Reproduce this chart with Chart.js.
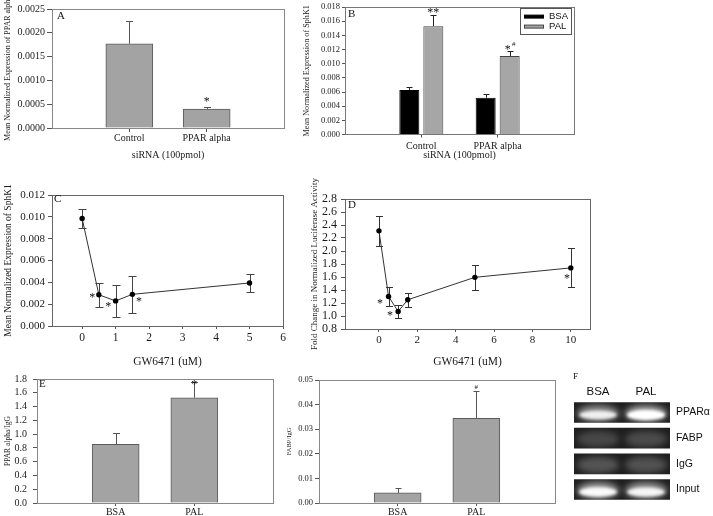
<!DOCTYPE html>
<html lang="en">
<head>
<meta charset="utf-8" />
<title>PPAR alpha / SphK1 panels</title>
<script src="https://cdn.jsdelivr.net/npm/chart.js@4.4.1/dist/chart.umd.min.js"></script>
<style>
  html, body { margin: 0; padding: 0; background: #fff; }
  #page { position: relative; width: 713px; height: 516px; overflow: hidden; }
  #page canvas { position: absolute; left: 0; top: 0; }
</style>
</head>
<body>
<div id="page">
  <canvas id="panelA" width="713" height="516"></canvas>
  <canvas id="panelB" width="713" height="516"></canvas>
  <canvas id="panelC" width="713" height="516"></canvas>
  <canvas id="panelD" width="713" height="516"></canvas>
  <canvas id="panelE" width="713" height="516"></canvas>
  <canvas id="panelFabp" width="713" height="516"></canvas>
  <canvas id="panelGel" width="713" height="516"></canvas>
</div>
<script>
var W = 713, H = 516;
var serif = '"Liberation Serif", "Times New Roman", serif';
var sans = '"Liberation Sans", Arial, sans-serif';

// A: PPAR alpha expression after siRNA
var aGroups = ['', 'Control', 'PPAR alpha', ''];
var aMean = [null, 0.00177, 0.00040, null];
var aSem = [null, 0.00047, 0.00004, null];

// B: SphK1 expression, BSA vs PAL
var bGroups = ['', 'Control', 'PPAR alpha', ''];
var bBsa = [null, 0.0063, 0.0052, null];
var bBsaSem = [null, 0.00045, 0.00055, null];
var bPal = [null, 0.0153, 0.0111, null];
var bPalSem = [null, 0.0016, 0.00065, null];

// C: SphK1 vs GW6471 dose
var cDose = [0, 0.5, 1, 1.5, 5];
var cSphk = [0.00985, 0.00286, 0.0023, 0.0029, 0.00394];
var cSem = [0.0009, 0.0011, 0.0015, 0.0017, 0.00085];
var cTicks = [0, 1, 2, 3, 4, 5, 6];

// D: luciferase vs GW6471 dose
var dDose = [0, 0.5, 1, 1.5, 5, 10];
var dFold = [2.31, 1.30, 1.07, 1.25, 1.595, 1.74];
var dSem = [0.23, 0.15, 0.10, 0.11, 0.195, 0.30];
var dTicks = [0, 2, 4, 6, 8, 10];

// E: ChIP PPAR alpha / IgG
var eGroups = ['', 'BSA', 'PAL', ''];
var eRatio = [null, 0.85, 1.528, null];
var eSem = [null, 0.16, 0.23, null];

// FABP / IgG
var fGroups = ['', 'BSA', 'PAL', ''];
var fRatio = [null, 0.0041, 0.0344, null];
var fSem = [null, 0.0020, 0.0111, null];

// F: gel band brightness (0..1)
var gelLanes = ['BSA', 'PAL'];
var gelRows = ['PPARα', 'FABP', 'IgG', 'Input'];
var gelBsa = [0.85, 0.30, 0.40, 0.95];
var gelPal = [1.00, 0.33, 0.38, 0.90];

Chart.defaults.font.family = serif;
Chart.defaults.color = '#1a1a1a';
Chart.defaults.animation = false;
Chart.defaults.responsive = false;
Chart.defaults.plugins.legend.display = false;
Chart.defaults.plugins.tooltip.enabled = false;

function fitWidth(w) { return function (s) { s.width = w; }; }
function fitHeight(h) { return function (s) { s.height = h; }; }

// layout so the plot box lands on the given page rect
function place(area, yLeft, xBottom) {
  return {
    autoPadding: false,
    padding: { left: yLeft, top: area.t, right: W - area.r, bottom: H - xBottom }
  };
}

function valueAxis(o) {
  return {
    min: o.min, max: o.max,
    afterFit: fitWidth(o.width),
    border: { display: false },
    grid: { drawOnChartArea: false, tickLength: o.tl, color: '#555' },
    ticks: {
      stepSize: o.step, padding: o.pad, autoSkip: false, font: { size: o.size },
      callback: function (v) { return v.toFixed(o.dec); }
    },
    title: { display: true, text: o.title, padding: 0, font: { size: o.titleSize, lineHeight: 1 } }
  };
}

function groupAxis(o) {
  return {
    type: 'category', offset: false,
    afterFit: fitHeight(o.height),
    border: { display: false },
    grid: {
      offset: false, drawOnChartArea: false, tickLength: o.tl,
      color: function (c) { return c.tick && c.tick.label ? '#555' : 'rgba(0,0,0,0)'; }
    },
    ticks: { padding: o.pad, autoSkip: false, maxRotation: 0, font: { size: o.size } },
    title: { display: !!o.title, text: o.title, padding: 0, font: { size: o.titleSize, lineHeight: 1 } }
  };
}

// error bars, box frame, panel letter, significance marks, boxed legend
function deco(o) {
  return {
    id: 'deco',
    beforeDatasetsDraw: function (chart) {
      var ctx = chart.ctx, ys = chart.scales.y;
      ctx.save();
      ctx.strokeStyle = o.errColor || '#333';
      ctx.lineWidth = 1;
      chart.data.datasets.forEach(function (ds, di) {
        if (!ds.errs) return;
        chart.getDatasetMeta(di).data.forEach(function (el, i) {
          var v = ds.data[i], e = ds.errs[i];
          if (v == null || e == null) return;
          if (typeof v === 'object') v = v.y;
          var x = Math.round(el.x) + 0.5;
          var top = Math.round(ys.getPixelForValue(v + e)) + 0.5;
          var bot = o.both ? Math.round(ys.getPixelForValue(v - e)) + 0.5 : el.y;
          var c = o.cap;
          ctx.beginPath();
          ctx.moveTo(x, bot); ctx.lineTo(x, top);
          ctx.moveTo(x - c, top); ctx.lineTo(x + c, top);
          if (o.both) { ctx.moveTo(x - c, bot); ctx.lineTo(x + c, bot); }
          ctx.stroke();
        });
      });
      ctx.restore();
    },
    afterDatasetsDraw: function (chart) {
      var ctx = chart.ctx, a = chart.chartArea;
      ctx.save();
      ctx.strokeStyle = o.frame || '#666';
      ctx.lineWidth = 1;
      ctx.strokeRect(Math.round(a.left) + 0.5, Math.round(a.top) + 0.5,
        Math.round(a.right - a.left), Math.round(a.bottom - a.top));
      ctx.restore();
    },
    afterDraw: function (chart) {
      var ctx = chart.ctx, a = chart.chartArea, xs = chart.scales.x, ys = chart.scales.y;
      ctx.save();
      ctx.fillStyle = '#111';
      ctx.textBaseline = 'middle';
      if (o.letter) {
        ctx.font = (o.letterSize || 11) + 'px ' + serif;
        ctx.textAlign = 'left';
        ctx.fillText(o.letter, a.left + o.lx, a.top + o.ly);
      }
      (o.marks || []).forEach(function (m) {
        var x = m.ds != null ? chart.getDatasetMeta(m.ds).data[m.i].x : xs.getPixelForValue(m.x);
        var size = m.size || 12;
        var y = ys.getPixelForValue(m.y) + (m.text.indexOf('*') >= 0 ? size * 0.15 : 0);
        ctx.font = size + 'px ' + serif;
        ctx.textAlign = 'center';
        ctx.fillText(m.text, x + (m.dx || 0), y);
      });
      if (o.legend) {
        var L = o.legend;
        var lx = a.right - L.right - L.w, ly = a.top + L.top;
        ctx.strokeStyle = '#555';
        ctx.strokeRect(Math.round(lx) + 0.5, Math.round(ly) + 0.5, L.w, L.h);
        ctx.font = '9.5px ' + sans;
        ctx.textAlign = 'left';
        chart.data.datasets.forEach(function (ds, i) {
          var ry = ly + 9 + i * 10;
          ctx.fillStyle = ds.backgroundColor;
          ctx.fillRect(lx + 4, ry - 1.5, 20, 3);
          ctx.strokeStyle = ds.borderColor;
          ctx.strokeRect(lx + 4.5, ry - 1.5, 19, 3);
          ctx.fillStyle = '#111';
          ctx.fillText(ds.label, lx + 29, ry);
        });
      }
      ctx.restore();
    }
  };
}

// ---------- A ----------
var aArea = { l: 52, t: 9, r: 284, b: 128 };
new Chart(document.getElementById('panelA'), {
  type: 'bar',
  data: {
    labels: aGroups,
    datasets: [{ data: aMean, errs: aSem, backgroundColor: '#a3a3a3', borderColor: '#5a5a5a', borderWidth: 1, barThickness: 47 }]
  },
  options: {
    layout: place(aArea, 4, 160.5),
    scales: {
      x: groupAxis({ height: 32.5, tl: 4, pad: 0, size: 10, title: 'siRNA (100pmol)', titleSize: 10 }),
      y: valueAxis({ min: 0, max: 0.0025, step: 0.0005, dec: 4, width: 48, tl: 5, pad: 2, size: 10,
        title: 'Mean Normalized Expression of PPAR alpha', titleSize: 8 })
    }
  },
  plugins: [deco({ cap: 3.5, errColor: '#555', frame: '#888', letter: 'A', lx: 5, ly: 7,
    marks: [{ ds: 0, i: 2, y: 0.00059, text: '*' }] })]
});

// ---------- B ----------
var bArea = { l: 345, t: 3, r: 574, b: 134.5 };
new Chart(document.getElementById('panelB'), {
  type: 'bar',
  data: {
    labels: bGroups,
    datasets: [
      { label: 'BSA', data: bBsa, errs: bBsaSem, backgroundColor: '#000', borderColor: '#000', borderWidth: 1,
        categoryPercentage: 0.629, barPercentage: 0.833 },
      { label: 'PAL', data: bPal, errs: bPalSem, backgroundColor: '#a6a6a6', borderColor: '#444', borderWidth: 1,
        categoryPercentage: 0.629, barPercentage: 0.833 }
    ]
  },
  options: {
    layout: place(bArea, 302.9, 160.5),
    scales: {
      x: groupAxis({ height: 26, tl: 3, pad: 2.5, size: 10, title: 'siRNA (100pmol)', titleSize: 10 }),
      y: valueAxis({ min: 0, max: 0.018, step: 0.002, dec: 3, width: 42.1, tl: 3, pad: 2, size: 8.5,
        title: 'Mean Normalized Expression of SphK1', titleSize: 8.2 })
    }
  },
  plugins: [deco({ cap: 3, errColor: '#222', frame: '#777', letter: 'B', lx: 3, ly: 7,
    legend: { right: 3, top: 0.5, w: 51, h: 26 },
    marks: [
      { ds: 1, i: 1, y: 0.0175, text: '**' },
      { ds: 1, i: 2, y: 0.0122, text: '*', dx: -2 },
      { ds: 1, i: 2, y: 0.0127, text: '#', size: 7, dx: 4 }
    ] })]
});

// ---------- C ----------
var cArea = { l: 52, t: 195, r: 283, b: 326 };
new Chart(document.getElementById('panelC'), {
  type: 'line',
  data: {
    datasets: [{
      data: cDose.map(function (x, i) { return { x: x, y: cSphk[i] }; }),
      errs: cSem, borderColor: '#333', borderWidth: 1, tension: 0,
      pointRadius: 2.7, pointBackgroundColor: '#000', pointBorderWidth: 0
    }]
  },
  options: {
    layout: place(cArea, 3.25, 367.75),
    scales: {
      x: {
        type: 'linear', min: -0.9, max: 6,
        afterFit: fitHeight(41.75),
        afterBuildTicks: function (ax) { ax.ticks = cTicks.map(function (v) { return { value: v }; }); },
        border: { display: false },
        grid: { drawOnChartArea: false, tickLength: 3, color: '#555' },
        ticks: { padding: 2, autoSkip: false, maxRotation: 0, font: { size: 11.5 } },
        title: { display: true, text: 'GW6471 (uM)', padding: 0, font: { size: 11.5, lineHeight: 1 } }
      },
      y: valueAxis({ min: 0, max: 0.012, step: 0.002, dec: 3, width: 48.75, tl: 4, pad: 3, size: 11,
        title: 'Mean Normalized Expression of SphK1', titleSize: 9.5 })
    }
  },
  plugins: [deco({ both: true, cap: 4, errColor: '#444', frame: '#666', letter: 'C', lx: 2, ly: 4.5,
    marks: [
      { x: 0.3, y: 0.00277, text: '*' },
      { x: 0.78, y: 0.00194, text: '*' },
      { x: 1.70, y: 0.0024, text: '*' }
    ] })]
});

// ---------- D ----------
var dArea = { l: 345, t: 199, r: 590, b: 329 };
new Chart(document.getElementById('panelD'), {
  type: 'line',
  data: {
    datasets: [{
      data: dDose.map(function (x, i) { return { x: x, y: dFold[i] }; }),
      errs: dSem, borderColor: '#333', borderWidth: 1, tension: 0,
      pointRadius: 2.7, pointBackgroundColor: '#000', pointBorderWidth: 0
    }]
  },
  options: {
    layout: place(dArea, 310.5, 367.75),
    scales: {
      x: {
        type: 'linear', min: -1.77, max: 11,
        afterFit: fitHeight(38.75),
        afterBuildTicks: function (ax) { ax.ticks = dTicks.map(function (v) { return { value: v }; }); },
        border: { display: false },
        grid: { drawOnChartArea: false, tickLength: 3, color: '#555' },
        ticks: { padding: 1.5, autoSkip: false, maxRotation: 0, font: { size: 11 } },
        title: { display: true, text: 'GW6471 (uM)', padding: 0, font: { size: 11.5, lineHeight: 1 } }
      },
      y: valueAxis({ min: 0.8, max: 2.8, step: 0.2, dec: 1, width: 34.5, tl: 4, pad: 4, size: 12,
        title: 'Fold Change in Normalized Luciferase Activity', titleSize: 9 })
    }
  },
  plugins: [deco({ both: true, cap: 3.5, errColor: '#333', frame: '#666', letter: 'D', lx: 3, ly: 6,
    marks: [
      { x: 0.05, y: 1.22, text: '*' },
      { x: 0.57, y: 1.03, text: '*' },
      { x: 9.8, y: 1.60, text: '*' }
    ] })]
});

// ---------- E ----------
var eArea = { l: 37, t: 379, r: 273, b: 503 };
new Chart(document.getElementById('panelE'), {
  type: 'bar',
  data: {
    labels: eGroups,
    datasets: [{ data: eRatio, errs: eSem, backgroundColor: '#a3a3a3', borderColor: '#5a5a5a', borderWidth: 1, barThickness: 47 }]
  },
  options: {
    layout: place(eArea, 4.75, 516),
    scales: {
      x: groupAxis({ height: 13, tl: 3, pad: 0, size: 10 }),
      y: valueAxis({ min: 0, max: 1.8, step: 0.2, dec: 1, width: 32.25, tl: 4, pad: 6, size: 10,
        title: 'PPAR alpha/IgG', titleSize: 7.5 })
    }
  },
  plugins: [deco({ cap: 3.5, errColor: '#555', frame: '#888', letter: 'E', lx: 2, ly: 5.5,
    marks: [{ ds: 0, i: 2, y: 1.74, text: '*' }] })]
});

// ---------- FABP / IgG ----------
var fArea = { l: 319, t: 380, r: 555, b: 503 };
new Chart(document.getElementById('panelFabp'), {
  type: 'bar',
  data: {
    labels: fGroups,
    datasets: [{ data: fRatio, errs: fSem, backgroundColor: '#a3a3a3', borderColor: '#5a5a5a', borderWidth: 1, barThickness: 47 }]
  },
  options: {
    layout: place(fArea, 286.25, 516),
    scales: {
      x: groupAxis({ height: 13, tl: 3, pad: 0, size: 10 }),
      y: valueAxis({ min: 0, max: 0.05, step: 0.01, dec: 2, width: 32.75, tl: 4, pad: 2, size: 8.5,
        title: 'FABP/IgG', titleSize: 6.5 })
    }
  },
  plugins: [deco({ cap: 3, errColor: '#555', frame: '#888',
    marks: [{ ds: 0, i: 2, y: 0.0472, text: '#', size: 7 }] })]
});

// ---------- F: gel ----------
var gelBands = {
  id: 'gelBands',
  afterDatasetsDraw: function (chart) {
    var ctx = chart.ctx, xs = chart.scales.x;
    chart.getDatasetMeta(0).data.forEach(function (bar, r) {
      var h = bar.height;
      ctx.save();
      ctx.beginPath();
      ctx.rect(bar.base, bar.y - h / 2, bar.x - bar.base, h);
      ctx.clip();
      [gelBsa[r], gelPal[r]].forEach(function (k, lane) {
        var cx = xs.getPixelForValue(lane + 0.5);
        var cy = bar.y + 1;
        ctx.filter = 'blur(3px)';
        ctx.fillStyle = 'rgba(255,255,255,' + (k * 0.6) + ')';
        ctx.beginPath(); ctx.ellipse(cx, cy, 21, h * 0.4, 0, 0, Math.PI * 2); ctx.fill();
        if (k > 0.6) {
          ctx.filter = 'blur(1.5px)';
          ctx.fillStyle = 'rgba(255,255,255,' + k + ')';
          ctx.beginPath(); ctx.ellipse(cx, cy + 1.5, 17 + 2 * k, h * 0.24 * k, 0, 0, Math.PI * 2); ctx.fill();
        }
      });
      ctx.restore();
    });
    var a = chart.chartArea;
    ctx.save();
    ctx.fillStyle = '#111';
    ctx.font = '9px ' + serif;
    ctx.textBaseline = 'middle';
    ctx.fillText('F', a.left - 1, a.top - 22.6);
    ctx.restore();
  }
};

new Chart(document.getElementById('panelGel'), {
  type: 'bar',
  data: {
    labels: gelRows,
    datasets: [{ data: gelRows.map(function () { return [0, 2]; }), backgroundColor: '#1f1f1f',
      categoryPercentage: 1, barPercentage: 0.8 }]
  },
  options: {
    indexAxis: 'y',
    layout: { autoPadding: false, padding: { left: 574, top: 379.6, right: 0, bottom: H - 502.4 } },
    scales: {
      x: {
        type: 'linear', position: 'top', min: 0, max: 2,
        afterFit: fitHeight(20),
        afterBuildTicks: function (ax) { ax.ticks = [{ value: 0.5 }, { value: 1.5 }]; },
        grid: { display: false, drawTicks: false, tickLength: 0 }, border: { display: false },
        ticks: { padding: 1, maxRotation: 0, color: '#111', font: { family: sans, size: 11.5 },
          callback: function (v, i) { return gelLanes[i]; } }
      },
      y: {
        position: 'right',
        afterFit: fitWidth(43),
        grid: { display: false, drawTicks: false, tickLength: 0 }, border: { display: false },
        ticks: { padding: 6, color: '#111', font: { family: sans, size: 10.5 } }
      }
    }
  },
  plugins: [gelBands]
});
</script>
</body>
</html>
